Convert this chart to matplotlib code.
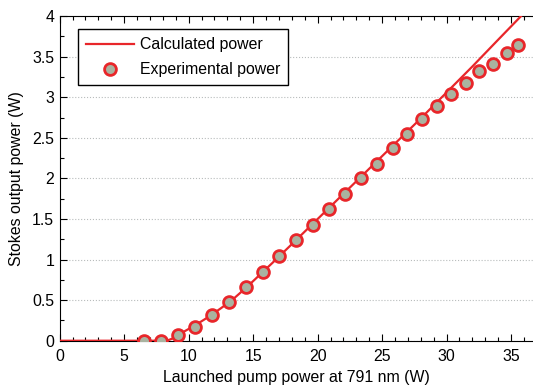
import numpy as np
from matplotlib import pyplot as plt
from matplotlib.ticker import MultipleLocator

# measured Stokes output vs launched pump power
pump_exp = [6.53, 7.88, 9.2, 10.49, 11.78, 13.1, 14.44, 15.74, 17.02, 18.32,
            19.61, 20.85, 22.1, 23.33, 24.57, 25.81, 26.95, 28.06, 29.22,
            30.36, 31.5, 32.48, 33.57, 34.65, 35.55]
stokes_exp = [0.0, 0.0, 0.066, 0.172, 0.316, 0.48, 0.665, 0.85, 1.043, 1.24,
              1.424, 1.62, 1.81, 2.0, 2.18, 2.38, 2.55, 2.73, 2.89,
              3.04, 3.18, 3.32, 3.415, 3.54, 3.65]

# model curve
pump_calc = [0, 8.3, 8.8, 9.5, 10.5, 11.5, 12.5, 13.5, 14.5, 15.5, 16.5,
             18, 20, 22, 24, 26, 28, 30, 32, 34, 36.5]
stokes_calc = [0, 0, 0.03, 0.1, 0.19, 0.29, 0.4, 0.52, 0.66, 0.81, 0.96,
               1.19, 1.5, 1.81, 2.12, 2.43, 2.74, 3.06, 3.38, 3.71, 4.12]

RED = '#e8262a'

plt.rcParams['font.family'] = ['Liberation Sans', 'DejaVu Sans']
plt.rcParams['font.size'] = 11.4

fig = plt.figure(figsize=(5.33, 3.85), dpi=100)
ax = fig.add_axes([0.112, 0.115, 0.888, 0.843])

ax.plot(pump_calc, stokes_calc, color=RED, lw=1.6, label='Calculated power', zorder=3)
ax.plot(pump_exp, stokes_exp, 'o', ms=8.5, mfc='#a9b3a0', mec=RED, mew=2.0,
        label='Experimental power', zorder=4, clip_on=True)

ax.set_xlim(0, 36.7)
ax.set_ylim(0, 4)
ax.xaxis.set_major_locator(MultipleLocator(5))
ax.xaxis.set_minor_locator(MultipleLocator(1))
ax.yaxis.set_minor_locator(MultipleLocator(0.25))
ax.set_yticks(np.arange(0, 4.01, 0.5))
ax.set_yticklabels(['0', '0.5', '1', '1.5', '2', '2.5', '3', '3.5', '4'])

ax.tick_params(which='both', direction='in', top=True, right=False, width=0.8)
ax.tick_params(which='major', length=5, pad=4)
ax.tick_params(which='minor', length=3)
ax.tick_params(axis='x', which='major', pad=6)
ax.spines['right'].set_visible(False)

ax.yaxis.grid(True, which='major', ls=':', color='#b8bcbc', lw=0.8)
ax.set_axisbelow(True)

ax.set_xlabel('Launched pump power at 791 nm (W)', labelpad=4)
ax.set_ylabel('Stokes output power (W)', labelpad=6)

leg = ax.legend(loc='upper left', bbox_to_anchor=(0.039, 0.96), borderaxespad=0,
                fancybox=False, edgecolor='black', framealpha=1, handlelength=3.0,
                borderpad=0.5, labelspacing=0.65, handletextpad=0.4)
leg.get_frame().set_linewidth(1.0)

plt.savefig('out.png', dpi=100)
